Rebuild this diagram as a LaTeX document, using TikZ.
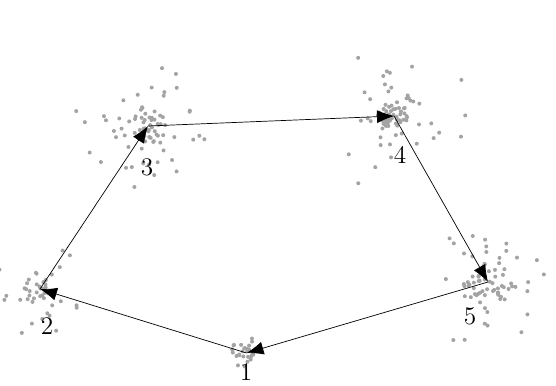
\documentclass[tikz,border=0pt]{standalone}
\usetikzlibrary{arrows.meta,calc}
\tikzset{
  dot/.style={fill=black!36},
  lbl/.style={font=\Large, inner sep=1pt}
}
\begin{document}
\begin{tikzpicture}[x=1cm, y=1cm, >={Latex[length=0.34cm,width=0.26cm]}]
	
	\useasboundingbox (0,0) rectangle (11.12,7.7);
	\pgfmathsetseed{4213}
	
	% 1. Tâm các cụm
	\coordinate (c1) at (4.93,0.64);
	\coordinate (c2) at (0.80,1.92);
	\coordinate (c3) at (2.96,5.18);
	\coordinate (c4) at (7.88,5.38);
	\coordinate (c5) at (9.76,2.06);
	
	% 2. Các điểm quanh mỗi tâm (lõi dày + phần thưa)
	\foreach \c/\n/\s in {c1/30/0.14, c2/20/0.14, c3/35/0.18, c4/35/0.16, c5/30/0.18,
	                      c2/25/0.38, c3/45/0.5, c4/45/0.62, c5/45/0.5}
	\foreach \i in {1,...,\n}{
		\pgfmathsetmacro\dx{\s*(rand+rand+rand)}
		\pgfmathsetmacro\dy{\s*(rand+rand+rand)}
		\fill[dot] ($(\c)+(\dx,\dy)$) circle (0.04);
	}
	
	% 3. Nhãn
	\node[lbl] (l1) at (4.92,0.26) {1};
	\node[lbl] (l2) at (0.94,1.18) {2};
	\node[lbl] (l3) at (2.94,4.36) {3};
	\node[lbl] (l4) at (8.00,4.60) {4};
	\node[lbl] (l5) at (9.40,1.38) {5};
	
	% 4. Các mũi tên
	\draw[->] (c1) -- (c2);
	\draw[->] (c2) -- (c3);
	\draw[->] (c3) -- (c4);
	\draw[->] (c4) -- (c5);
	\draw[->] (c5) -- (c1);
	
\end{tikzpicture}
\end{document}
